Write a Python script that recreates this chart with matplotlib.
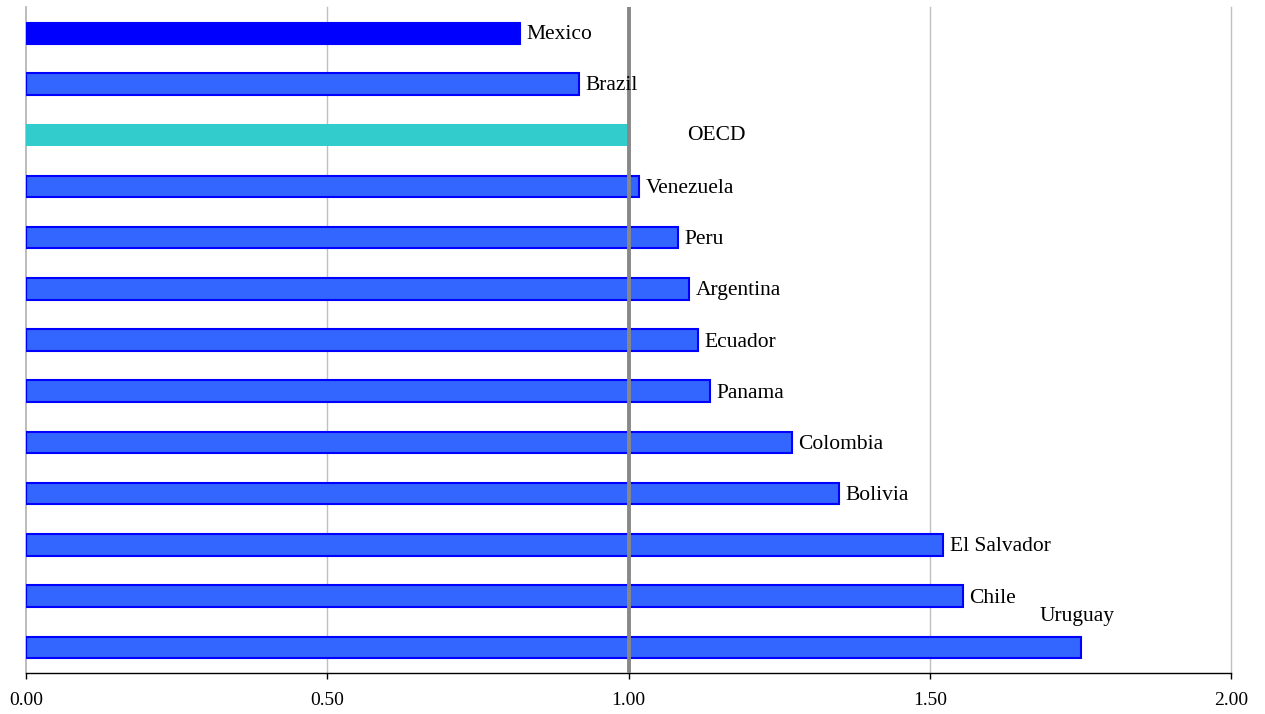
import matplotlib
matplotlib.use("Agg")
import matplotlib.pyplot as plt

countries = ["Mexico", "Brazil", "OECD", "Venezuela", "Peru", "Argentina", "Ecuador",
             "Panama", "Colombia", "Bolivia", "El Salvador", "Chile", "Uruguay"]
values = [0.82, 0.918, 1.00, 1.017, 1.082, 1.100, 1.115, 1.135, 1.271, 1.349, 1.522, 1.555, 1.751]
xticks = [0.0, 0.5, 1.0, 1.5, 2.0]
xtick_labels = ["0.00", "0.50", "1.00", "1.50", "2.00"]

plt.rcParams['font.family'] = ['Liberation Serif', 'DejaVu Serif']

fig = plt.figure(figsize=(12.65, 7.14), dpi=100)
ax = fig.add_axes([0.0206, 0.0574, 0.9525, 0.9328])

ypos = list(range(len(countries)))
for y, c, v in zip(ypos, countries, values):
    if c == "Mexico":
        ax.barh(y, v, height=0.43, color="#0000FF", edgecolor="#0000FF", linewidth=0.8, zorder=3)
    elif c == "OECD":
        ax.barh(y, v, height=0.43, color="#33CCCC", edgecolor="none", zorder=3)
    else:
        ax.barh(y, v, height=0.42, color="#3366FF", edgecolor="#0000FF", linewidth=1.5, zorder=3)

fs = 15.5
for y, c, v in zip(ypos, countries, values):
    if c == "OECD":
        ax.text(v + 0.097, y, c, va="center", ha="left", fontsize=fs, zorder=5)
    elif c == "Uruguay":
        ax.text(v - 0.068, y - 0.6, c, va="center", ha="left", fontsize=fs, zorder=5)
    else:
        ax.text(v + 0.011, y + 0.04, c, va="center", ha="left", fontsize=fs, zorder=5)

ax.axvline(1.0, color="#888888", linewidth=2.8, zorder=4)
for x in [0.5, 1.5, 2.0]:
    ax.axvline(x, color="#C0C0C0", linewidth=1.0, zorder=1, clip_on=False)

ax.set_xlim(0, 2.0)
ax.set_ylim(12.5, -0.5)
ax.set_xticks(xticks)
ax.set_xticklabels(xtick_labels, fontsize=14)
ax.set_yticks([])
ax.tick_params(axis="x", length=4, width=1, pad=10, direction="out")
ax.spines["top"].set_visible(False)
ax.spines["right"].set_visible(False)
ax.spines["left"].set_color("#B0B0B0")
ax.spines["left"].set_linewidth(1.2)
ax.spines["bottom"].set_color("black")
ax.spines["bottom"].set_linewidth(1.0)

fig.savefig("out.png", dpi=100)
